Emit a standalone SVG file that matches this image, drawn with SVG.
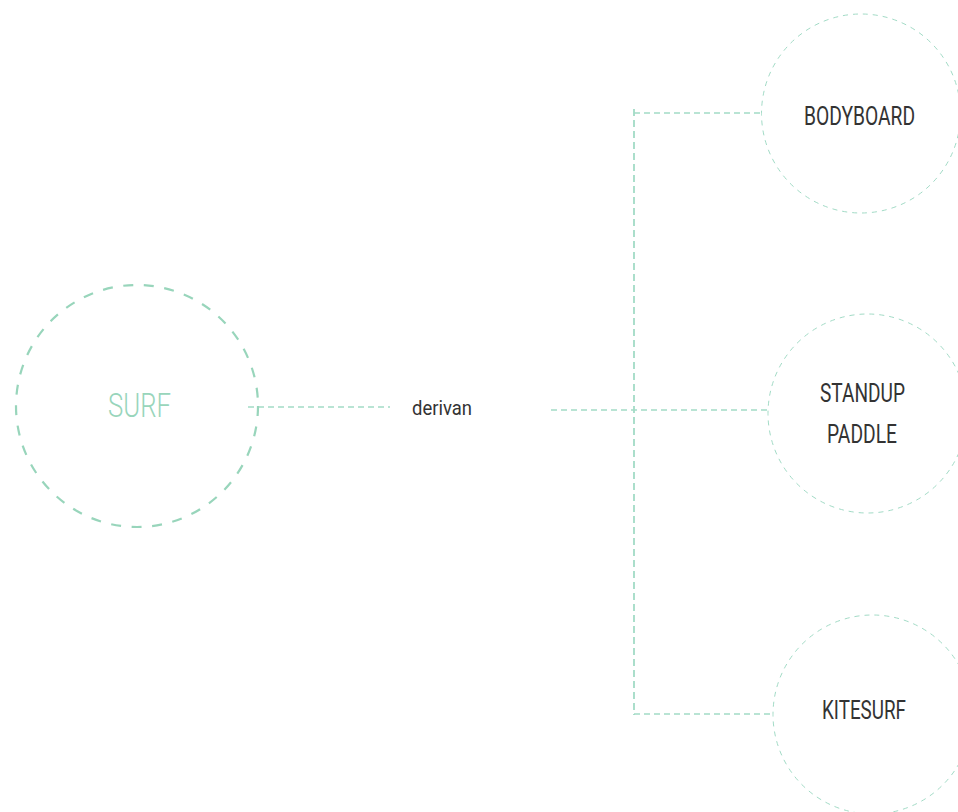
<svg xmlns="http://www.w3.org/2000/svg" width="958" height="812" viewBox="0 0 958 812">
<style>
.main{fill:none;stroke:#98d5bb;stroke-width:2.2;stroke-dasharray:10 10.6}
.sub{fill:none;stroke:#a2dbc6;stroke-width:1;stroke-dasharray:5 5}
.con{fill:none;stroke:#a2dbc6;stroke-width:1.3;stroke-dasharray:6 4}
.vert{fill:none;stroke:#a2dbc6;stroke-width:1.8;stroke-dasharray:7 4}
.lbl{font-family:Roboto,"Liberation Sans",sans-serif;fill:#333333;font-size:25px;text-anchor:middle;font-weight:400}
.surf{font-family:Roboto,"Liberation Sans",sans-serif;fill:#98d5bb;font-size:34px;text-anchor:middle;font-weight:300}
</style>
<rect width="958" height="812" fill="#ffffff"/>
<g id="connectors">
<line class="con" x1="248" y1="407" x2="390" y2="407"/>
<line class="con" x1="551" y1="410" x2="768" y2="410"/>
<line class="vert" x1="634" y1="109" x2="634" y2="715"/>
<line class="con" x1="634" y1="113" x2="764" y2="113"/>
<line class="con" x1="634" y1="714" x2="773" y2="714"/>
</g>
<g id="surf">
<circle class="main" cx="137" cy="406" r="121"/>
<text class="surf" x="139.5" y="416.5" textLength="63" lengthAdjust="spacingAndGlyphs">SURF</text>
</g>
<g id="derivan">
<text x="442" y="414.5" font-family="Roboto,'Liberation Sans',sans-serif" font-size="21" fill="#333333" text-anchor="middle" textLength="60" lengthAdjust="spacingAndGlyphs">derivan</text>
</g>
<g id="bodyboard">
<circle class="sub" cx="861" cy="113.5" r="99.5"/>
<text class="lbl" x="859.5" y="125" textLength="111" lengthAdjust="spacingAndGlyphs">BODYBOARD</text>
</g>
<g id="standup">
<circle class="sub" cx="867.5" cy="413.5" r="99.5"/>
<text class="lbl" x="862.5" y="402" textLength="85" lengthAdjust="spacingAndGlyphs">STANDUP</text>
<text class="lbl" x="862" y="443" textLength="70" lengthAdjust="spacingAndGlyphs">PADDLE</text>
</g>
<g id="kitesurf">
<circle class="sub" cx="872.5" cy="714.5" r="99.5"/>
<text class="lbl" x="864" y="719" textLength="84" lengthAdjust="spacingAndGlyphs">KITESURF</text>
</g>
</svg>
